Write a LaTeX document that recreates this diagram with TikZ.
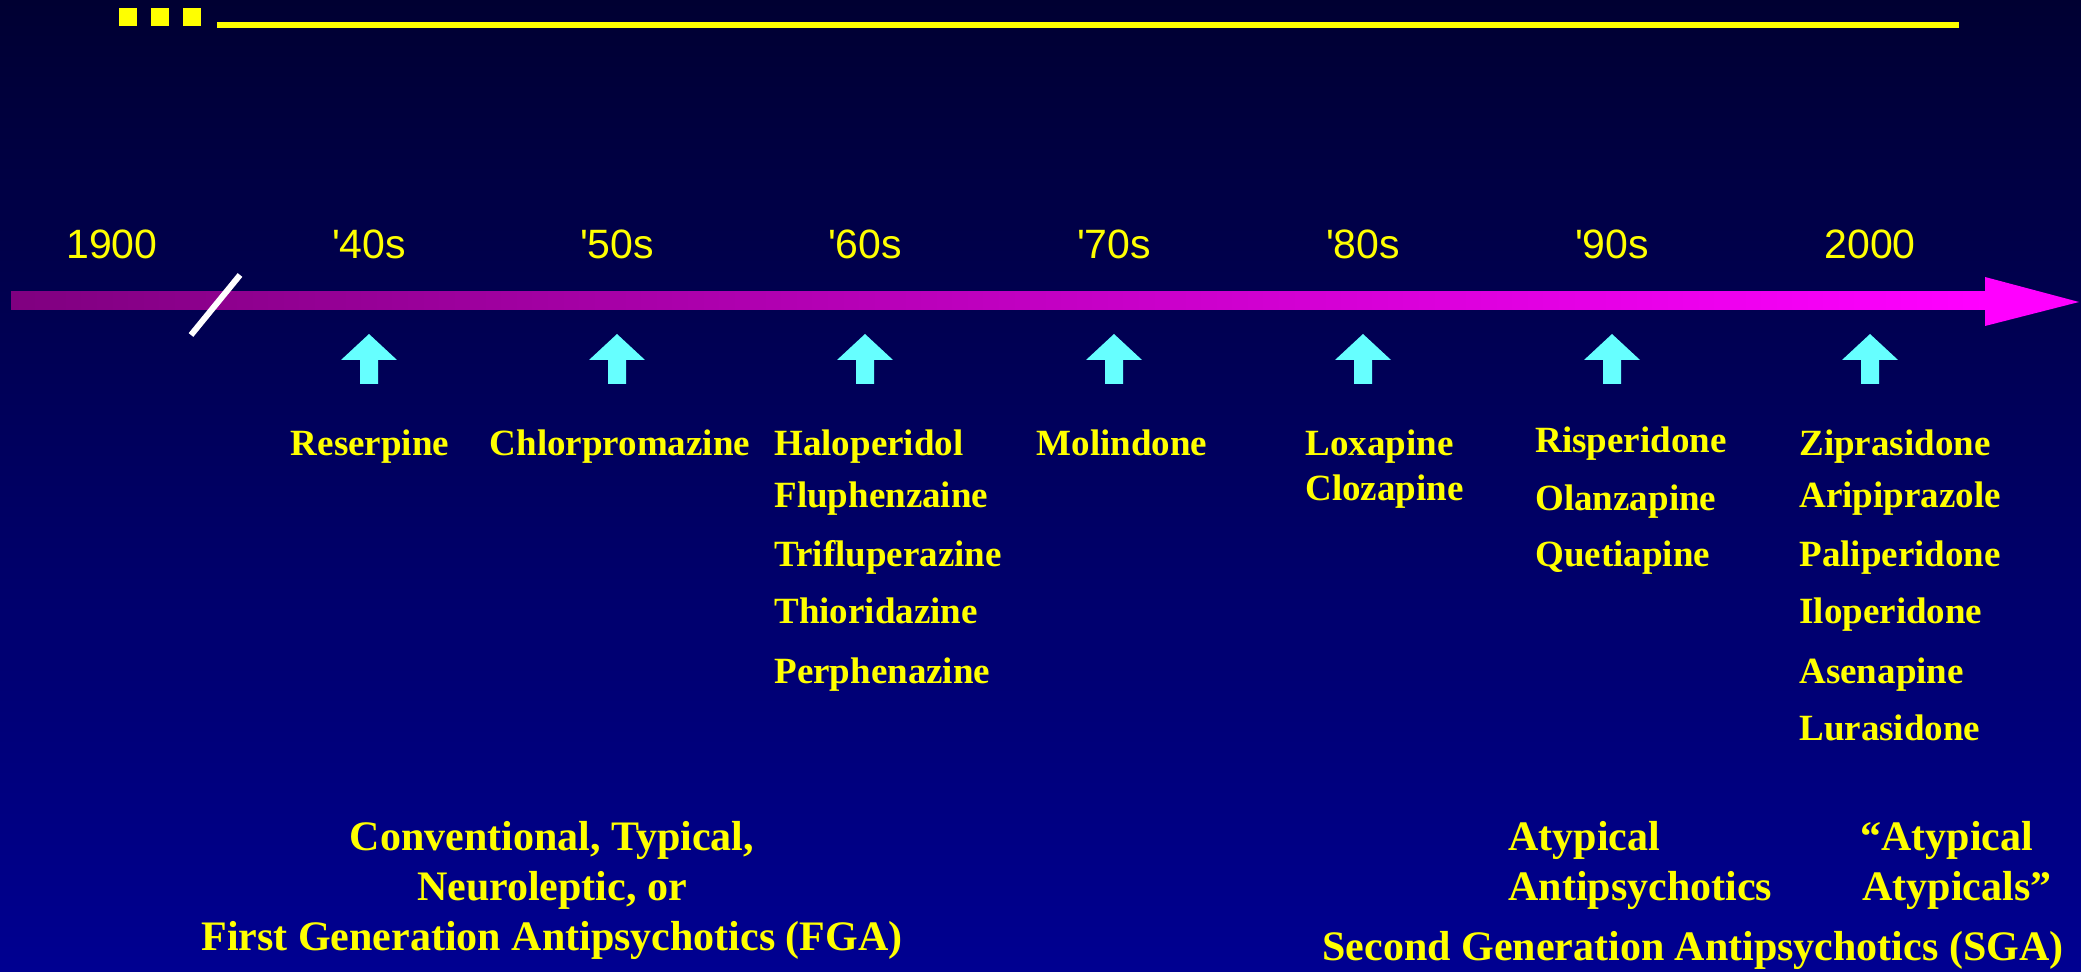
\documentclass[tikz,border=0pt]{standalone}
\usepackage{fontspec}
\setmainfont{Liberation Serif}
\newfontfamily\yearfont{Liberation Sans}
\usetikzlibrary{calc}

\definecolor{bgtop}{RGB}{0,0,50}
\definecolor{bgbot}{RGB}{0,0,145}
\definecolor{barleft}{RGB}{128,0,128}
\definecolor{barright}{RGB}{255,0,255}
\definecolor{tipcyan}{RGB}{102,255,255}
\definecolor{txtyellow}{RGB}{255,255,0}

\tikzset{
  yearlbl/.style={inner sep=0pt,anchor=base,text=txtyellow,font=\yearfont\fontsize{20.5}{24}\selectfont},
  drug/.style={inner sep=0pt,anchor=base west,text=txtyellow,font=\bfseries\fontsize{18.5}{22}\selectfont},
  group/.style={inner sep=0pt,anchor=base,text=txtyellow,font=\bfseries\fontsize{21}{25}\selectfont},
}

\begin{document}
\begin{tikzpicture}[x=0.5pt,y=-0.5pt]
  \shade[top color=bgtop,bottom color=bgbot] (0,0) rectangle (2081,972);
  \foreach \x in {119,151,183}{
    \fill[txtyellow] (\x,8) rectangle ++(18,18);
  }
  \fill[txtyellow] (217,22) rectangle (1959,28);

  \shade[left color=barleft,right color=barright] (11,292) rectangle (1986,310);
  \fill[barright] (1985,277) -- (2079,302) -- (1985,326) -- cycle;
  \draw[white,line width=3pt] (191,335) -- (240,275);

  \foreach \x/\lab/\nm in {112/1900/y00,369/'40s/y40,617/'50s/y50,865/'60s/y60,
      1114/'70s/y70,1363/'80s/y80,1612/'90s/y90,1870/2000/y2000}{
    \node[yearlbl] (\nm) at (\x,259) {\lab};
  }
  \foreach \x in {369,617,865,1114,1363,1612,1870}{
    \fill[tipcyan] (\x,334) -- ++(28,26) -- ++(-19,0) -- ++(0,24) -- ++(-18,0)
      -- ++(0,-24) -- ++(-19,0) -- cycle;
  }

  \node[drug,anchor=base] (Reserpine) at (370,456) {Reserpine};
  \node[drug,anchor=base] (Chlorpromazine) at (620,456) {Chlorpromazine};
  \node[drug,anchor=base] (Molindone) at (1122,456) {Molindone};
  \foreach \nm/\y in {Haloperidol/456,Fluphenzaine/508,Trifluperazine/566,
      Thioridazine/623,Perphenazine/683}{
    \node[drug] (\nm) at (774,\y) {\nm};
  }
  \foreach \nm/\y in {Loxapine/456,Clozapine/501}{
    \node[drug] (\nm) at (1305,\y) {\nm};
  }
  \foreach \nm/\y in {Risperidone/453,Olanzapine/510,Quetiapine/567}{
    \node[drug] (\nm) at (1535,\y) {\nm};
  }
  \foreach \nm/\y in {Ziprasidone/456,Aripiprazole/508,Paliperidone/566,
      Iloperidone/623,Asenapine/683,Lurasidone/740}{
    \node[drug] (\nm) at (1799,\y) {\nm};
  }

  \node[group] (fga1) at (552,850) {Conventional, Typical,};
  \node[group] (fga2) at (552,900) {Neuroleptic, or};
  \node[group] (fga3) at (552,950) {First Generation Antipsychotics (FGA)};
  \node[group,anchor=base west] (atyp1) at (1508,850) {Atypical};
  \node[group,anchor=base west] (atyp2) at (1508,900) {Antipsychotics};
  \node[group,anchor=base west] (aa1) at (1860,850) {“Atypical};
  \node[group,anchor=base west] (aa2) at (1862,900) {Atypicals”};
  \node[group] (sga) at (1693,960) {Second Generation Antipsychotics (SGA)};
\end{tikzpicture}
\end{document}
